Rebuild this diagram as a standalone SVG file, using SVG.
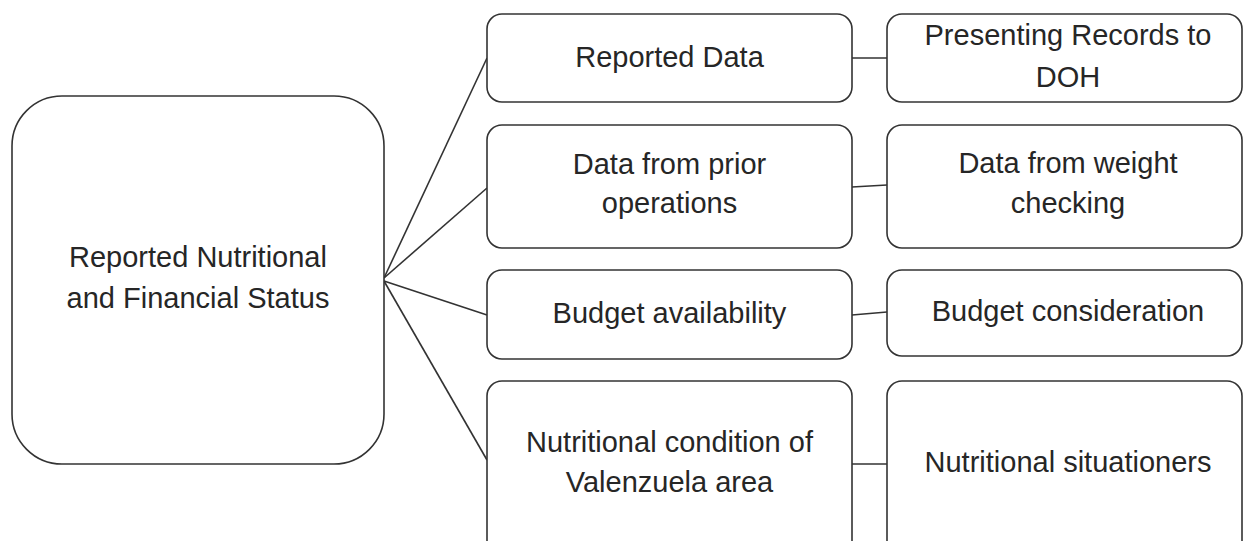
<svg xmlns="http://www.w3.org/2000/svg" width="1244" height="541" viewBox="0 0 1244 541">
<style>
.box{fill:#fff;stroke:#333;stroke-width:1.6}
.lbl{font-family:"Liberation Sans",Arial,sans-serif;font-size:29px;fill:#262626;text-anchor:middle}
.conn{stroke:#333;stroke-width:1.6;fill:none}
</style>
<rect width="1244" height="541" fill="#fff"/>
<g id="connectors">
<line class="conn" x1="384" y1="278" x2="487" y2="58"/>
<line class="conn" x1="384" y1="278" x2="487" y2="188"/>
<line class="conn" x1="384" y1="281" x2="487" y2="315"/>
<line class="conn" x1="384" y1="281" x2="487" y2="460"/>
<line class="conn" x1="852" y1="58" x2="887" y2="58"/>
<line class="conn" x1="852" y1="187" x2="887" y2="185"/>
<line class="conn" x1="852" y1="315" x2="887" y2="312"/>
<line class="conn" x1="852" y1="464" x2="887" y2="464"/>
</g>
<g id="main">
<rect class="box" x="12" y="96" width="372" height="368" rx="50" ry="50"/>
<text class="lbl" x="198" y="267">Reported Nutritional</text>
<text class="lbl" x="198" y="308">and Financial Status</text>
</g>
<g id="reported-data">
<rect class="box" x="487" y="14" width="365" height="88" rx="15" ry="15"/>
<text class="lbl" x="669.5" y="67">Reported Data</text>
</g>
<g id="presenting-records">
<rect class="box" x="887" y="14" width="355" height="88" rx="15" ry="15"/>
<text class="lbl" x="1068" y="45">Presenting Records to</text>
<text class="lbl" x="1068" y="87">DOH</text>
</g>
<g id="prior-operations">
<rect class="box" x="487" y="125" width="365" height="123" rx="15" ry="15"/>
<text class="lbl" x="669.5" y="174">Data from prior</text>
<text class="lbl" x="669.5" y="213">operations</text>
</g>
<g id="weight-checking">
<rect class="box" x="887" y="125" width="355" height="123" rx="15" ry="15"/>
<text class="lbl" x="1068" y="173">Data from weight</text>
<text class="lbl" x="1068" y="213">checking</text>
</g>
<g id="budget-availability">
<rect class="box" x="487" y="270" width="365" height="89" rx="15" ry="15"/>
<text class="lbl" x="669.5" y="323">Budget availability</text>
</g>
<g id="budget-consideration">
<rect class="box" x="887" y="270" width="355" height="86" rx="15" ry="15"/>
<text class="lbl" x="1068" y="321">Budget consideration</text>
</g>
<g id="nutritional-condition">
<rect class="box" x="487" y="381" width="365" height="175" rx="15" ry="15"/>
<text class="lbl" x="669.5" y="452">Nutritional condition of</text>
<text class="lbl" x="669.5" y="492">Valenzuela area</text>
</g>
<g id="nutritional-situationers">
<rect class="box" x="887" y="381" width="355" height="175" rx="15" ry="15"/>
<text class="lbl" x="1068" y="472">Nutritional situationers</text>
</g>
</svg>
